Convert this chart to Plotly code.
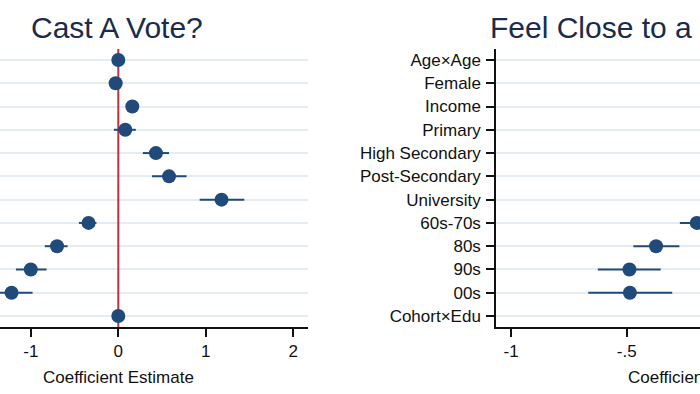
import plotly.graph_objects as go

labels = ["Age×Age", "Female", "Income", "Primary", "High Secondary", "Post-Secondary",
          "University", "60s-70s", "80s", "90s", "00s", "Cohort×Edu"]

# Panel 1: Cast A Vote?
vote_coef = [0.00, -0.03, 0.16, 0.08, 0.43, 0.58, 1.18, -0.34, -0.70, -1.00, -1.22, 0.00]
vote_lo = [-0.02, -0.05, 0.14, -0.05, 0.28, 0.385, 0.93, -0.45, -0.84, -1.17, -1.46, -0.02]
vote_hi = [0.02, -0.01, 0.18, 0.20, 0.58, 0.78, 1.44, -0.25, -0.58, -0.82, -0.98, 0.02]

# Panel 2: Feel Close to a Party? (only visible estimates; others lie outside the crop)
party_coef = [None, None, None, None, None, None, None, -0.197, -0.373, -0.488, -0.486, None]
party_lo = [None, None, None, None, None, None, None, -0.27, -0.471, -0.625, -0.666, None]
party_hi = [None, None, None, None, None, None, None, -0.124, -0.272, -0.353, -0.303, None]

vote_ticks = [-2, -1, 0, 1, 2]
vote_ticktext = ["-2", "-1", "0", "1", "2"]
party_ticks = [-1, -0.5, 0]
party_ticktext = ["-1", "-.5", "0"]
zero_ref = 0

NAVY = "#1f4a7a"
RED = "#c0303f"
GRID = "#e6edf2"
FONT = "Liberation Sans, Arial, sans-serif"

rows = list(range(len(labels)))
yrange = [11.47, -0.47]


def err(c, v):
    return [None if (a is None or b is None) else abs(b - a) for a, b in zip(c, v)]


fig = go.Figure()
# zero reference line spanning the full plot height
fig.add_trace(go.Scatter(
    x=[zero_ref, zero_ref], y=yrange, mode="lines", xaxis="x", yaxis="y",
    line=dict(color=RED, width=2), showlegend=False, hoverinfo="skip"))
fig.add_trace(go.Scatter(
    x=vote_coef, y=rows, mode="markers", xaxis="x", yaxis="y",
    marker=dict(size=14, color=NAVY),
    error_x=dict(type="data", symmetric=False, array=err(vote_coef, vote_hi),
                 arrayminus=err(vote_coef, vote_lo), width=0, thickness=2, color=NAVY),
    showlegend=False))
fig.add_trace(go.Scatter(
    x=party_coef, y=rows, mode="markers", xaxis="x2", yaxis="y2",
    marker=dict(size=14, color=NAVY),
    error_x=dict(type="data", symmetric=False, array=err(party_coef, party_hi),
                 arrayminus=err(party_coef, party_lo), width=0, thickness=2, color=NAVY),
    showlegend=False))

ydom = [(394 - 327) / 394, (394 - 49) / 394]

fig.update_layout(
    width=700, height=394, margin=dict(l=0, r=0, t=0, b=0),
    paper_bgcolor="white", plot_bgcolor="white",
    font=dict(family=FONT, color="#111111", size=17),
    xaxis=dict(domain=[0, 308 / 700], range=[-1.352, 2.168], tickvals=vote_ticks,
               ticktext=vote_ticktext, showgrid=False, zeroline=False,
               showline=True, linecolor="#111111", linewidth=1.5,
               ticks="outside", ticklen=8, tickwidth=1.5, tickcolor="#111111",
               ticklabelstandoff=0, tickfont=dict(size=17)),
    yaxis=dict(domain=ydom, range=yrange, tickvals=rows, showticklabels=False,
               showgrid=True, gridcolor=GRID, gridwidth=1.5, zeroline=False,
               showline=False, ticks=""),
    xaxis2=dict(domain=[496 / 700, 1], range=[-1.065, -0.183], anchor="y2",
                tickvals=party_ticks, ticktext=party_ticktext, showgrid=False,
                zeroline=False, showline=True, linecolor="#111111", linewidth=1.5,
                ticks="outside", ticklen=8, tickwidth=1.5, tickcolor="#111111",
                ticklabelstandoff=0, tickfont=dict(size=17)),
    yaxis2=dict(domain=ydom, range=yrange, anchor="x2", tickvals=rows, ticktext=labels,
                showgrid=True, gridcolor=GRID, gridwidth=1.5, zeroline=False,
                showline=True, linecolor="#111111", linewidth=1.5,
                ticks="outside", ticklen=8, tickwidth=1.5, tickcolor="#111111",
                ticklabelstandoff=2, tickfont=dict(size=17)),
)

fig.add_annotation(text="Cast A Vote?", xref="paper", yref="paper", x=117 / 700, y=1 - 27 / 394,
                   xanchor="center", yanchor="middle", showarrow=False,
                   font=dict(size=30, color="#1a2b4c", family=FONT))
fig.add_annotation(text="Feel Close to a Party?", xref="paper", yref="paper", x=488 / 700,
                   y=1 - 27 / 394, xanchor="left", yanchor="middle", showarrow=False,
                   font=dict(size=30, color="#1a2b4c", family=FONT))
fig.add_annotation(text="Coefficient Estimate", xref="paper", yref="paper", x=118 / 700,
                   y=1 - 377 / 394, xanchor="center", yanchor="middle", showarrow=False,
                   font=dict(size=17, color="#111111", family=FONT))
fig.add_annotation(text="Coefficient Estimate", xref="paper", yref="paper", x=626 / 700,
                   y=1 - 377 / 394, xanchor="left", yanchor="middle", showarrow=False,
                   font=dict(size=17, color="#111111", family=FONT))

fig.write_html("out.html", config={"displayModeBar": False},
               post_script="document.body.style.margin='0';")
